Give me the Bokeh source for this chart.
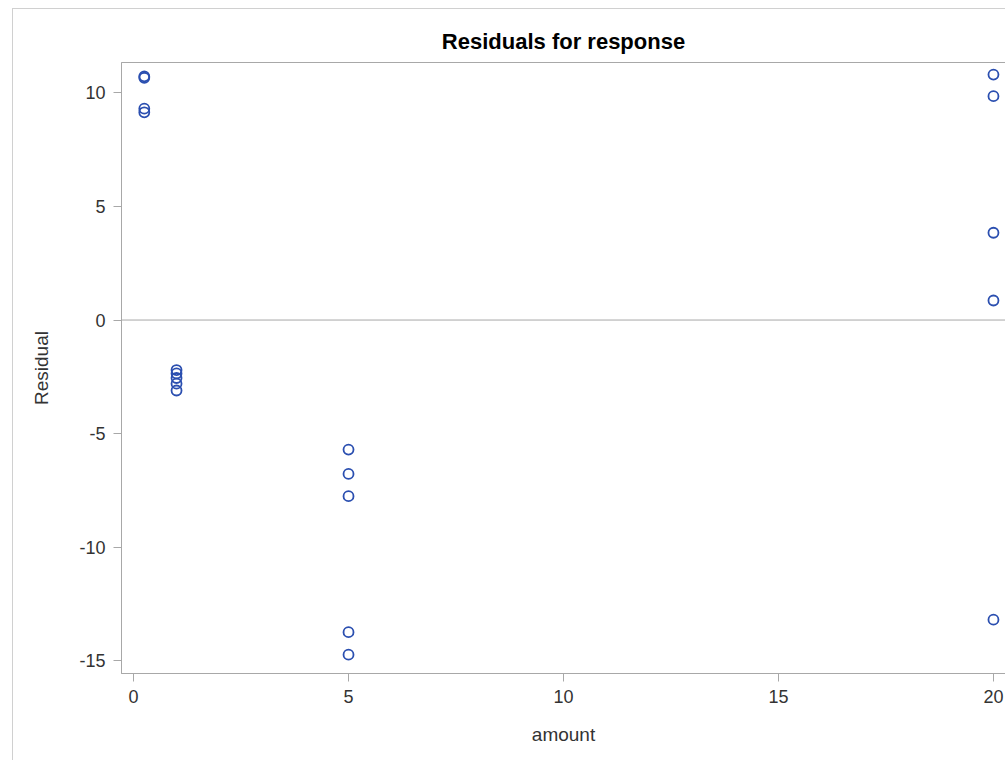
from bokeh.plotting import figure
from bokeh.models import ColumnDataSource, Span, FixedTicker, Range1d, PrintfTickFormatter
from bokeh.embed import file_html
from bokeh.resources import INLINE

# Residuals by amount level
amount_low = [0.25, 0.25, 0.25, 0.25]
resid_low = [10.72, 10.66, 9.30, 9.14]

amount_one = [1, 1, 1, 1, 1]
resid_one = [-2.20, -2.35, -2.55, -2.80, -3.10]

amount_five = [5, 5, 5, 5, 5]
resid_five = [-5.70, -6.77, -7.75, -13.73, -14.72]

amount_twenty = [20, 20, 20, 20, 20]
resid_twenty = [10.80, 9.85, 3.84, 0.86, -13.18]

x_ticks = [0, 5, 10, 15, 20]
y_ticks = [-15, -10, -5, 0, 5, 10]

amount = amount_low + amount_one + amount_five + amount_twenty
residual = resid_low + resid_one + resid_five + resid_twenty
source = ColumnDataSource(data=dict(amount=amount, residual=residual))

FONT = "Liberation Sans"
AXIS_GRAY = "#a8a8a8"
TEXT = "#333333"

p = figure(
    width=993, height=752,
    x_range=Range1d(-0.28, 20.28),
    y_range=Range1d(-15.55, 11.33),
    title="Residuals for response",
    output_backend="svg",
    toolbar_location=None,
    min_border_left=108, min_border_right=1,
    min_border_top=53, min_border_bottom=88,
)
p.styles = {
    "margin-left": "12px",
    "margin-top": "8px",
    "border-left": "1px solid #d0d0d0",
    "border-top": "1px solid #d0d0d0",
}

p.title.align = "center"
p.title.text_font = FONT
p.title.text_font_size = "22px"
p.title.text_font_style = "bold"
p.title.text_color = "#000000"
p.title.standoff = 18

p.xgrid.visible = False
p.ygrid.visible = False
p.outline_line_color = AXIS_GRAY
p.outline_line_width = 1

# zero reference line
p.add_layout(Span(location=0, dimension="width", line_color=AXIS_GRAY, line_width=1))

p.scatter("amount", "residual", source=source, marker="circle", size=10,
          fill_color=None, line_color="#2b4fb0", line_width=1.8)

p.xaxis.ticker = FixedTicker(ticks=x_ticks)
p.yaxis.ticker = FixedTicker(ticks=y_ticks)
p.xaxis.formatter = PrintfTickFormatter(format="%d")
p.yaxis.formatter = PrintfTickFormatter(format="%d")
p.xaxis.axis_label = "amount"
p.yaxis.axis_label = "Residual"

for ax in (p.xaxis, p.yaxis):
    ax.axis_line_color = AXIS_GRAY
    ax.major_tick_line_color = AXIS_GRAY
    ax.major_tick_out = 8
    ax.major_tick_in = 0
    ax.minor_tick_line_color = None
    ax.major_label_text_font = FONT
    ax.major_label_text_font_size = "18px"
    ax.major_label_text_color = TEXT
    ax.axis_label_text_font = FONT
    ax.axis_label_text_font_size = "19px"
    ax.axis_label_text_font_style = "normal"
    ax.axis_label_text_color = TEXT
    ax.major_label_standoff = 8

p.xaxis.axis_label_standoff = 18
p.yaxis.axis_label_standoff = 24
p.yaxis.major_label_orientation = "horizontal"

open("out.html", "w").write(file_html(p, INLINE))
